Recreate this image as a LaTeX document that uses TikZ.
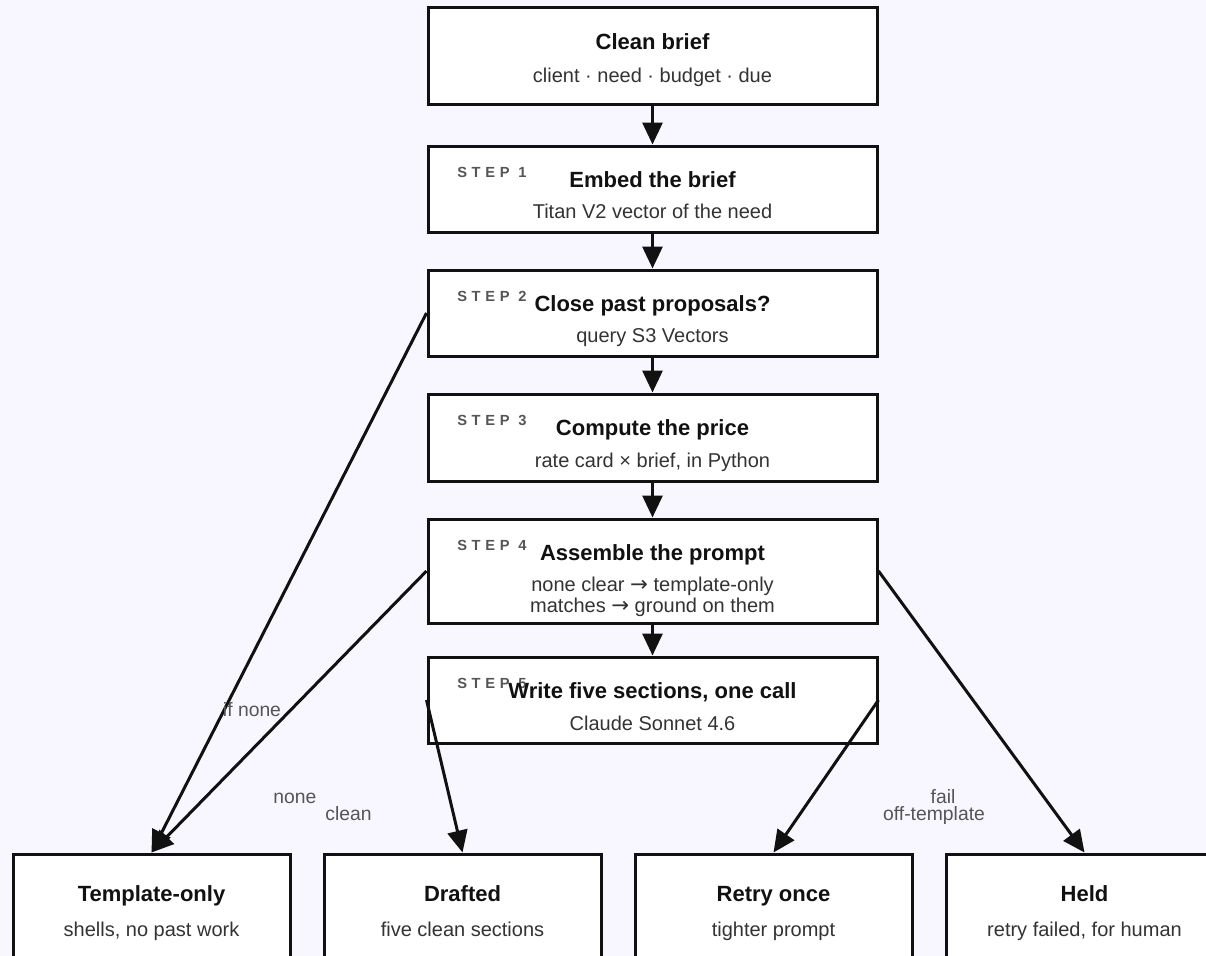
\documentclass[tikz,border=0pt]{standalone}
\usepackage{fontspec}
\setmainfont{Liberation Sans}
\newfontfamily\stepfnt[LetterSpace=32]{Liberation Sans}
\newfontfamily\symf{DejaVu Sans}
\usetikzlibrary{arrows.meta}
\definecolor{bg}{RGB}{248,247,255}
\definecolor{ink}{RGB}{17,17,17}
\definecolor{subc}{RGB}{51,51,51}
\definecolor{grayc}{RGB}{85,85,85}
\newcommand{\rarr}{{\symf\fontsize{16}{18}\selectfont →}}
\begin{document}
\begin{tikzpicture}[x=0.75pt,y=-0.75pt,
  box/.style={draw=ink, line width=2.25pt, fill=white, minimum width=336.75pt, inner sep=0pt},
  endbox/.style={draw=ink, line width=2.25pt, fill=white, minimum width=207.75pt, minimum height=84pt, inner sep=0pt},
  title/.style={anchor=base, font=\bfseries\fontsize{16.5}{19}\selectfont, text=ink, inner sep=0pt},
  sub/.style={anchor=base, font=\fontsize{15}{18}\selectfont, text=subc, inner sep=0pt},
  steplbl/.style={anchor=base west, font=\stepfnt\bfseries\fontsize{11}{13}\selectfont, text=grayc, inner sep=0pt},
  elabel/.style={anchor=base, font=\fontsize{14.5}{17}\selectfont, text=grayc, inner sep=0pt},
  arr/.style={draw=ink, line width=2.25pt, -{Triangle[length=16.5pt,width=15pt]}}
]
\fill[bg] (0,0) rectangle (1206,956);
\useasboundingbox (0,0) rectangle (1206,956);

% boxes
\node[box, minimum height=72pt] (brief) at (652.5,56) {};
\node[box, minimum height=64.5pt] (embed) at (652.5,189) {};
\node[box, minimum height=64.5pt] (close) at (652.5,313) {};
\node[box, minimum height=65.25pt] (price) at (652.5,437.5) {};
\node[box, minimum height=78pt] (prompt) at (652.5,571) {};
\node[box, minimum height=64.5pt] (write) at (652.5,700) {};

\node[endbox] (tmpl) at (151.5,910) {};
\node[endbox] (draft) at (462.5,910) {};
\node[endbox] (retry) at (773.5,910) {};
\node[endbox] (held) at (1084.5,910) {};

% texts
\node[title] (t0) at (652.5,50) {Clean brief};
\node[sub] (s0) at (652.5,83) {client · need · budget · due};

\node[steplbl] (k1) at (457,177) {STEP 1};
\node[title] (t1) at (652.5,187) {Embed the brief};
\node[sub] (s1) at (652.5,218) {Titan V2 vector of the need};

\node[steplbl] (k2) at (457,301) {STEP 2};
\node[title] (t2) at (652.5,311.5) {Close past proposals?};
\node[sub] (s2) at (652.5,342.5) {query S3 Vectors};

\node[steplbl] (k3) at (457,425.5) {STEP 3};
\node[title] (t3) at (652.5,435.5) {Compute the price};
\node[sub] (s3) at (652.5,467) {rate card × brief, in Python};

\node[steplbl] (k4) at (457,550) {STEP 4};
\node[title] (t4) at (652.5,560) {Assemble the prompt};
\node[sub] (s4a) at (652.5,591.5) {none clear \rarr{} template-only};
\node[sub] (s4b) at (652.5,612) {matches \rarr{} ground on them};

\node[steplbl] (k5) at (457,688.5) {STEP 5};
\node[title] (t5) at (652.5,698.5) {Write five sections, one call};
\node[sub] (s5) at (652.5,730) {Claude Sonnet 4.6};

\node[title] (tt) at (151.5,901.5) {Template-only};
\node[sub] (st) at (151.5,936.5) {shells, no past work};
\node[title] (td) at (462.5,901.5) {Drafted};
\node[sub] (sd) at (462.5,936.5) {five clean sections};
\node[title] (tr) at (773.5,901.5) {Retry once};
\node[sub] (sr) at (773.5,936.5) {tighter prompt};
\node[title] (th) at (1084.5,901.5) {Held};
\node[sub] (sh) at (1084.5,936.5) {retry failed, for human};

% connectors
\draw[arr] (brief.south) -- (embed.north);
\draw[arr] (embed.south) -- (close.north);
\draw[arr] (close.south) -- (price.north);
\draw[arr] (price.south) -- (prompt.north);
\draw[arr] (prompt.south) -- (write.north);

\draw[arr] (close.west) -- (tmpl.north);
\draw[arr] (prompt.west) -- (tmpl.north);
\draw[arr] (write.west) -- (draft.north);
\draw[arr] (write.east) -- (retry.north);
\draw[arr] (prompt.east) -- (held.north);

% edge labels
\node[elabel] (l1) at (252,716) {if none};
\node[elabel] (l2) at (295,803) {none};
\node[elabel] (l3) at (348.5,820) {clean};
\node[elabel] (l4) at (943,803) {fail};
\node[elabel] (l5) at (934,820) {off-template};
\end{tikzpicture}
\end{document}
